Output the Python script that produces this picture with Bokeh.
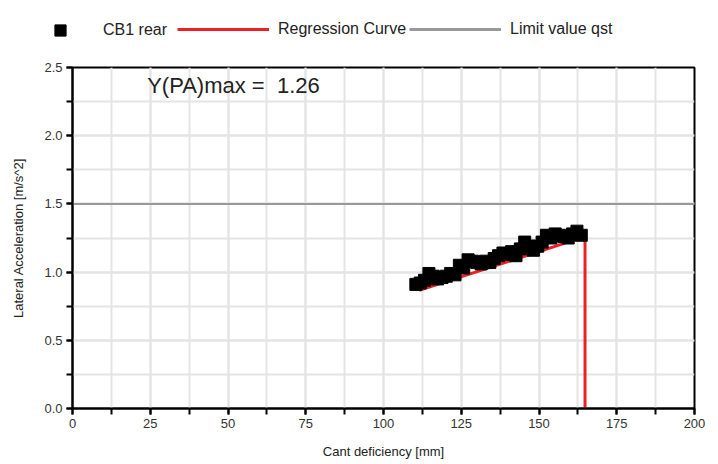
from bokeh.plotting import figure
from bokeh.layouts import column
from bokeh.models import (Range1d, FixedTicker, Legend, LegendItem, Label,
                          NumeralTickFormatter)
from bokeh.embed import file_html
from bokeh.resources import INLINE

# ---- data ----
cb1_x = [110.4, 111.8, 113.2, 114.6, 116.0, 117.4, 118.8, 120.2, 121.6, 123.0,
         124.4, 125.8, 127.2, 128.6, 130.0, 131.4, 132.8, 134.2, 135.6, 137.0,
         138.4, 139.8, 141.2, 142.6, 144.0, 145.4, 146.8, 148.2, 149.6, 151.0,
         152.4, 153.8, 155.2, 156.6, 158.0, 159.4, 160.8, 162.2, 163.6]
cb1_y = [0.91, 0.92, 0.94, 0.99, 0.97, 0.95, 0.96, 0.97, 0.99, 0.98,
         1.05, 1.03, 1.09, 1.08, 1.07, 1.06, 1.08, 1.07, 1.10, 1.12,
         1.14, 1.13, 1.15, 1.12, 1.17, 1.22, 1.19, 1.16, 1.19, 1.22,
         1.27, 1.25, 1.28, 1.27, 1.26, 1.25, 1.28, 1.30, 1.27]
reg_x = [111.5, 164.8, 164.8]
reg_y = [0.866, 1.26, 0.0]
limit_x = [0, 200]
limit_y = [1.5, 1.5]
x_ticks = [0, 25, 50, 75, 100, 125, 150, 175, 200]
x_minor = [0, 12.5, 25, 37.5, 50, 62.5, 75, 87.5, 100, 112.5, 125, 137.5,
           150, 162.5, 175, 187.5, 200]
y_ticks = [0.0, 0.5, 1.0, 1.5, 2.0, 2.5]
y_minor = [0.0, 0.25, 0.5, 0.75, 1.0, 1.25, 1.5, 1.75, 2.0, 2.25, 2.5]
ymax_text = "Y(PA)max = \u00a01.26"
legend_labels = ["CB1 rear", "Regression Curve", "Limit value qst"]

FONT = "Liberation Sans"
TXT = "#222222"
RED = "#ee2024"
GREY = "#999999"
W = 716
NAN = float("nan")

# ---------------- main chart ----------------
p = figure(width=W, height=409, output_backend="svg",
           toolbar_location=None, x_range=Range1d(0, 200), y_range=Range1d(0, 2.5),
           min_border_left=72, min_border_right=22, min_border_top=14,
           min_border_bottom=54, background_fill_color="white",
           border_fill_color="white")
p.outline_line_color = "black"
p.outline_line_width = 2

for g in (p.xgrid, p.ygrid):
    g.grid_line_color = "#e4e4e4"
    g.grid_line_width = 2
    g.minor_grid_line_color = "#e4e4e4"
    g.minor_grid_line_width = 2

p.xaxis.ticker = FixedTicker(ticks=x_ticks, minor_ticks=x_minor)
p.yaxis.ticker = FixedTicker(ticks=y_ticks, minor_ticks=y_minor)
p.yaxis.formatter = NumeralTickFormatter(format="0.0")

for ax in (p.xaxis[0], p.yaxis[0]):
    ax.axis_line_color = "black"
    ax.axis_line_width = 2
    ax.major_tick_line_color = "black"
    ax.major_tick_line_width = 2
    ax.minor_tick_line_color = "black"
    ax.minor_tick_line_width = 2
    ax.major_tick_in = 0
    ax.major_tick_out = 6
    ax.minor_tick_in = 0
    ax.minor_tick_out = 6
    ax.major_label_text_font = FONT
    ax.major_label_text_font_size = "13px"
    ax.major_label_text_color = "#333333"
    ax.axis_label_text_font = FONT
    ax.axis_label_text_font_size = "13px"
    ax.axis_label_text_font_style = "normal"
    ax.axis_label_text_color = TXT

p.xaxis.axis_label = "Cant deficiency [mm]"
p.yaxis.axis_label = "Lateral Acceleration [m/s^2]"
p.xaxis.major_label_standoff = 4
p.yaxis.major_label_standoff = 4
p.xaxis.axis_label_standoff = 13
p.yaxis.axis_label_standoff = 15

p.line(limit_x, limit_y, line_color=GREY, line_width=2)
p.line(reg_x, reg_y, line_color=RED, line_width=3)
p.scatter(cb1_x, cb1_y, marker="square", size=12, fill_color="black",
          line_color="black")

p.add_layout(Label(x=24, y=2.37, text=ymax_text, text_font=FONT,
                   text_font_size="22px", text_color=TXT,
                   text_baseline="middle"))

# ---------------- legend strip ----------------
lf = figure(width=W, height=53, output_backend="svg", toolbar_location=None,
            x_range=Range1d(0, 1), y_range=Range1d(0, 1),
            x_axis_location=None, y_axis_location=None, min_border=0,
            min_border_left=0, min_border_right=0, min_border_top=0,
            min_border_bottom=0,
            outline_line_color=None, background_fill_color="white",
            border_fill_color="white")
lf.grid.visible = False
l_sq = lf.scatter([NAN], [NAN], marker="square", size=12, fill_color="black",
                  line_color="black")
l_reg = lf.line([NAN, NAN], [NAN, NAN], line_color=RED, line_width=3)
l_lim = lf.line([NAN, NAN], [NAN, NAN], line_color=GREY, line_width=3)

common = dict(orientation="horizontal", label_text_font=FONT,
              label_text_font_size="16px", label_text_color=TXT,
              border_line_color=None, background_fill_alpha=0,
              padding=0, margin=0)
leg1 = Legend(items=[LegendItem(label=legend_labels[0], renderers=[l_sq])],
              location=(46, 9), glyph_width=28, glyph_height=28,
              label_height=28, label_standoff=29, **common)
leg2 = Legend(items=[LegendItem(label=legend_labels[1], renderers=[l_reg]),
                     LegendItem(label=legend_labels[2], renderers=[l_lim])],
              location=(177, 15), glyph_width=92, glyph_height=16,
              label_height=16, label_standoff=9, spacing=3, **common)
lf.add_layout(leg1)
lf.add_layout(leg2)

layout = column(column(lf), p, spacing=0)
open("out.html", "w").write(file_html(layout, INLINE))
